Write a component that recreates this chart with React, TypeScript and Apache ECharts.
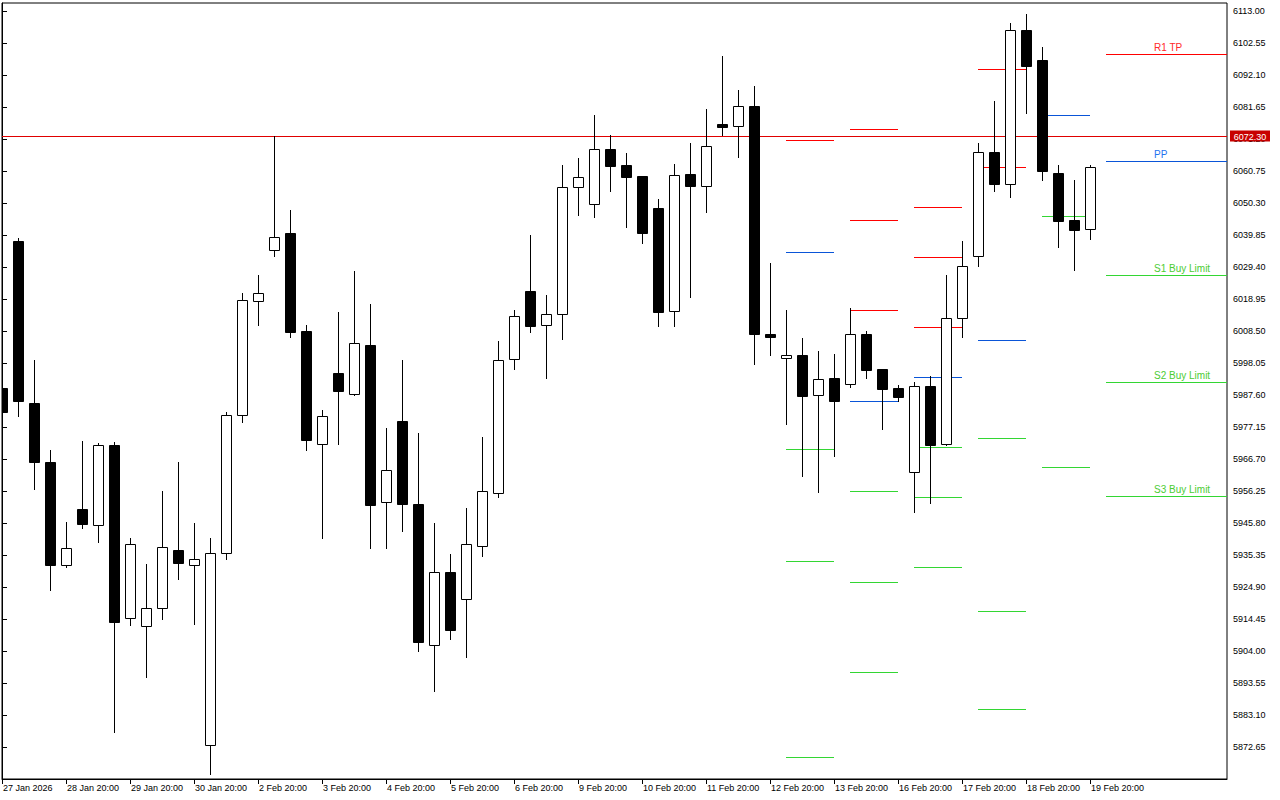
import React, { useEffect, useRef } from "react";
import * as echarts from "echarts";

// ---------- data ----------
const xTickLabels = [
  "27 Jan 2026", "28 Jan 20:00", "29 Jan 20:00", "30 Jan 20:00", "2 Feb 20:00",
  "3 Feb 20:00", "4 Feb 20:00", "5 Feb 20:00", "6 Feb 20:00", "9 Feb 20:00",
  "10 Feb 20:00", "11 Feb 20:00", "12 Feb 20:00", "13 Feb 20:00", "16 Feb 20:00",
  "17 Feb 20:00", "18 Feb 20:00", "19 Feb 20:00",
];
const barsPerLabel = 4;

const opens = [
  5989.89, 6037.99, 5985.02, 5965.69, 5932.22, 5950.41, 5945.02, 5971.14, 5914.71, 5912.04,
  5917.98, 5936.98, 5931.96, 5873.17, 5935.94, 5981.20, 6018.40, 6034.82, 6040.50, 6008.47,
  5971.57, 5994.92, 5987.90, 6003.86, 5952.59, 5979.21, 5952.10, 5905.90, 5929.83, 5921.02,
  5938.32, 5955.73, 5999.26, 6021.56, 6010.36, 6013.95, 6055.53, 6049.88, 6067.84, 6062.61,
  6059.02, 6048.57, 6014.93, 6059.67, 6055.75, 6076.10, 6075.35, 6081.88, 6007.42, 5999.59,
  6000.57, 5987.50, 5993.15, 5991.29, 6007.42, 5995.99, 5989.79, 5962.36, 5990.44, 5971.50,
  6012.65, 6032.83, 6066.86, 6056.41, 6106.70, 6096.90, 6060.00, 6044.68, 6041.71,
];
const highs = [
  5990.20, 6038.90, 5999.03, 5969.64, 5946.10, 5972.58, 5971.86, 5972.09, 5940.94, 5932.45,
  5956.25, 5965.69, 5945.83, 5940.94, 5982.02, 6020.84, 6026.69, 6072.31, 6048.01, 6010.39,
  5982.83, 6014.64, 6028.06, 6017.28, 5976.66, 5998.90, 5975.09, 5945.93, 5935.65, 5950.77,
  5973.98, 6005.33, 6015.36, 6039.85, 6020.26, 6062.71, 6065.00, 6079.04, 6072.51, 6066.63,
  6059.02, 6051.61, 6063.04, 6069.89, 6080.90, 6098.30, 6087.20, 6088.51, 6030.61, 6015.36,
  6006.21, 6001.97, 6000.99, 6015.91, 6008.50, 5995.99, 5990.87, 5991.75, 5993.71, 6026.79,
  6037.89, 6069.80, 6083.61, 6108.98, 6112.02, 6101.15, 6062.61, 6057.81, 6062.61,
];
const lows = [
  5981.50, 5980.84, 5957.03, 5924.05, 5931.27, 5944.20, 5939.66, 5877.39, 5912.62, 5895.35,
  5914.58, 5927.64, 5912.95, 5863.96, 5933.95, 5978.62, 6010.56, 6033.03, 6006.41, 5969.64,
  5940.74, 5971.57, 5987.67, 5937.61, 5937.61, 5943.16, 5903.84, 5890.91, 5907.82, 5902.04,
  5934.93, 5954.29, 5996.19, 6008.27, 5993.25, 6005.99, 6046.48, 6045.83, 6054.32, 6042.56,
  6037.14, 6010.23, 6010.23, 6019.70, 6047.46, 6072.60, 6065.42, 5997.63, 6000.50, 5978.03,
  5961.25, 5956.02, 5967.78, 5990.31, 5993.25, 5976.60, 5985.74, 5949.30, 5952.43, 5971.30,
  6006.64, 6029.83, 6054.32, 6052.36, 6079.79, 6057.81, 6036.03, 6028.58, 6038.64,
];
const closes = [
  5982.05, 5985.51, 5965.56, 5932.22, 5937.67, 5945.60, 5971.14, 5913.54, 5938.85, 5917.98,
  5937.80, 5932.90, 5933.95, 5935.94, 5980.94, 6018.49, 6020.75, 6039.30, 6008.21, 5972.91,
  5980.87, 5988.87, 6004.71, 5951.61, 5963.11, 5951.97, 5906.88, 5929.83, 5910.73, 5938.91,
  5956.35, 5999.19, 6013.30, 6010.23, 6013.95, 6055.53, 6058.69, 6067.84, 6062.48, 6058.89,
  6040.41, 6014.80, 6059.35, 6055.75, 6068.82, 6075.22, 6081.88, 6007.36, 6006.38, 6000.57,
  5987.37, 5992.73, 5985.74, 6007.42, 5995.86, 5989.66, 5987.05, 5990.44, 5971.37, 6012.65,
  6029.63, 6066.86, 6056.34, 6106.70, 6095.14, 6060.85, 6044.52, 6041.58, 6061.96,
];

// daily pivot levels: each group spans bars [start, start + 3]
const pivotStart = [49, 53, 57, 61, 65];
const pivotR3 = [null, 6074.37, 6048.90, null, null];
const pivotR2 = [null, 6044.65, 6032.57, 6093.96, null];
const pivotR1 = [6070.78, 6015.26, 6009.71, 6061.96, null];
const pivotPP = [6034.20, 5985.54, 5993.38, 6005.46, 6078.94];
const pivotS1 = [5969.87, 5956.15, 5970.52, 5973.46, 6045.96];
const pivotS2 = [5933.29, 5926.43, 5954.19, 5916.96, 5963.99];
const pivotS3 = [5869.29, 5897.04, 5931.33, 5884.96, null];

// current levels (right side, from bar 69 onward)
const currentStart = 69;
const currentLabelBar = 72;
const currentLevelNames = ["R1 TP", "PP", "S1 Buy Limit", "S2 Buy Limit", "S3 Buy Limit"];
const currentLevelValues = [6098.86, 6063.92, 6026.69, 5991.75, 5954.62];
const currentLevelKinds = [0, 1, 2, 2, 2];

const lastPrice = 6072.3;

// axis
const Y_BASE = 5862.2; // lowest tick (hidden)
const Y_TOP = 6115.61;
const Y_STEP = 10.45;
const X_MAX = 76.5625;

const LINE_COLORS = ["#ff0000", "#0a55d8", "#33d633"];
const TEXT_COLORS = ["#ff2a2a", "#1f73f0", "#4ccc33"];
const PRICE_COLOR = "#e00000";
const PRICE_BG = "#c80000";

export default function App() {
  const ref = useRef<HTMLDivElement>(null);

  useEffect(() => {
    document.body.style.margin = "0";
    const chart = echarts.init(ref.current!, null, { renderer: "svg" });
    const off = (v: number) => v - Y_BASE;

    const candleData = opens.map((o, i) => [i, off(o), off(closes[i]), off(lows[i]), off(highs[i])]);

    const pivotData: any[] = [];
    const levelSets = [pivotR3, pivotR2, pivotR1, pivotPP, pivotS1, pivotS2, pivotS3];
    const levelKinds = [0, 0, 0, 1, 2, 2, 2];
    pivotStart.forEach((s, g) => {
      levelSets.forEach((arr, k) => {
        const v = arr[g];
        if (v != null) pivotData.push([s, s + 3, off(v), levelKinds[k]]);
      });
    });

    const currentData = currentLevelValues.map((v, k) => [currentStart, X_MAX + 1, off(v), currentLevelKinds[k], k]);

    const font = '"Liberation Sans", Arial, sans-serif';
    const labelTicks = xTickLabels.map((_, k) => k * barsPerLabel);

    chart.setOption({
      animation: false,
      backgroundColor: "#ffffff",
      grid: {
        left: 2,
        right: 53,
        top: 3,
        bottom: 21,
        show: true,
        borderColor: "#000",
        borderWidth: 1,
        backgroundColor: "#fff",
      },
      xAxis: {
        type: "value",
        min: 0,
        max: X_MAX,
        interval: 4,
        axisLine: { show: true, lineStyle: { color: "#000", width: 1 } },
        axisTick: { show: true, length: 5, lineStyle: { color: "#000" }, customValues: labelTicks },
        splitLine: { show: false },
        axisLabel: {
          customValues: labelTicks,
          align: "left",
          margin: 4,
          color: "#000",
          fontSize: 9,
          fontFamily: font,
          padding: [0, 0, 0, 1],
          formatter: (v: number) => {
            const k = Math.round(v / barsPerLabel);
            return Math.abs(v - k * barsPerLabel) < 1e-6 && k < xTickLabels.length ? xTickLabels[k] : "";
          },
        },
      },
      yAxis: {
        type: "value",
        position: "right",
        min: 0,
        max: Y_TOP - Y_BASE,
        interval: Y_STEP,
        scale: false,
        axisLine: { show: true, lineStyle: { color: "#000", width: 1 } },
        axisTick: { show: true, length: 5, lineStyle: { color: "#000" } },
        splitLine: { show: false },
        axisLabel: {
          showMinLabel: false,
          showMaxLabel: false,
          margin: 6,
          color: "#000",
          fontSize: 9,
          fontFamily: font,
          formatter: (v: number) => (v + Y_BASE).toFixed(2),
        },
      },
      series: [
        {
          type: "custom",
          name: "pivots",
          clip: true,
          silent: true,
          data: pivotData,
          encode: { x: [0, 1], y: 2 },
          renderItem: (_params: any, api: any) => {
            const p1 = api.coord([api.value(0), api.value(2)]);
            const p2 = api.coord([api.value(1), api.value(2)]);
            const y = Math.round(p1[1]) + 0.5;
            return {
              type: "line",
              shape: { x1: Math.round(p1[0]), y1: y, x2: Math.round(p2[0]), y2: y },
              style: { stroke: LINE_COLORS[api.value(3)], lineWidth: 1 },
            };
          },
          z: 3,
        },
        {
          type: "custom",
          name: "current levels",
          clip: true,
          silent: true,
          data: currentData,
          encode: { x: [0, 1], y: 2 },
          renderItem: (_params: any, api: any) => {
            const p1 = api.coord([api.value(0), api.value(2)]);
            const p2 = api.coord([api.value(1), api.value(2)]);
            const pl = api.coord([currentLabelBar, api.value(2)]);
            const y = Math.round(p1[1]) + 0.5;
            const kind = api.value(3);
            return {
              type: "group",
              children: [
                {
                  type: "line",
                  shape: { x1: Math.round(p1[0]), y1: y, x2: Math.round(p2[0]), y2: y },
                  style: { stroke: LINE_COLORS[kind], lineWidth: 1 },
                },
                {
                  type: "text",
                  x: Math.round(pl[0]),
                  y: y - 7.5,
                  style: {
                    text: currentLevelNames[api.value(4)],
                    fill: TEXT_COLORS[kind],
                    font: `10px ${font}`,
                    align: "left",
                    verticalAlign: "middle",
                  },
                },
              ],
            };
          },
          z: 3,
        },
        {
          type: "custom",
          name: "last price",
          clip: false,
          silent: true,
          data: [[0, off(lastPrice)]],
          encode: { x: 0, y: 1 },
          renderItem: (params: any, api: any) => {
            const cs = params.coordSys;
            const p = api.coord([0, api.value(1)]);
            const y = Math.round(p[1]) + 0.5;
            const right = cs.x + cs.width;
            return {
              type: "group",
              children: [
                {
                  type: "line",
                  shape: { x1: cs.x, y1: y, x2: right, y2: y },
                  style: { stroke: PRICE_COLOR, lineWidth: 1 },
                  z2: 1,
                },
                {
                  type: "rect",
                  shape: { x: right + 3, y: y - 6, width: 40, height: 11 },
                  style: { fill: PRICE_BG },
                  z2: 10,
                },
                {
                  type: "text",
                  x: right + 23,
                  y: y,
                  style: {
                    text: lastPrice.toFixed(2),
                    fill: "#fff",
                    font: `9px ${font}`,
                    align: "center",
                    verticalAlign: "middle",
                  },
                  z2: 11,
                },
              ],
            };
          },
          z: 3,
        },
        {
          type: "custom",
          name: "candles",
          clip: true,
          silent: true,
          data: candleData,
          encode: { x: 0, y: [1, 2, 3, 4] },
          renderItem: (_params: any, api: any) => {
            const i = api.value(0);
            const o = api.value(1);
            const c = api.value(2);
            const pO = api.coord([i, o]);
            const pC = api.coord([i, c]);
            const pL = api.coord([i, api.value(3)]);
            const pH = api.coord([i, api.value(4)]);
            const x = Math.round(pO[0]);
            const top = Math.round(Math.min(pO[1], pC[1]));
            const bot = Math.round(Math.max(pO[1], pC[1]));
            const bull = c > o;
            return {
              type: "group",
              children: [
                {
                  type: "line",
                  shape: { x1: x + 0.5, y1: Math.round(pH[1]), x2: x + 0.5, y2: Math.round(pL[1]) + 1 },
                  style: { stroke: "#000", lineWidth: 1 },
                },
                {
                  type: "rect",
                  shape: { x: x - 4.5, y: top + 0.5, width: 10, height: Math.max(bot - top, 1) },
                  style: { fill: bull ? "#fff" : "#000", stroke: "#000", lineWidth: 1 },
                },
              ],
            };
          },
          z: 4,
        },
      ],
    });

    return () => chart.dispose();
  }, []);

  return <div ref={ref} style={{ width: 1280, height: 800 }} />;
}
